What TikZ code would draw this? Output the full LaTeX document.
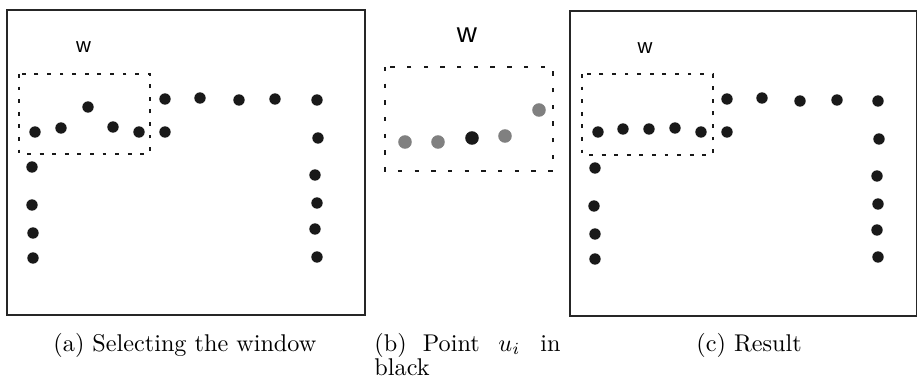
\documentclass[tikz,border=0pt]{standalone}
\usepackage{fontspec}
\newfontfamily\wfont{Liberation Sans}
\begin{document}
\begin{tikzpicture}[x=0.4132pt,y=-0.4132pt,
  frame/.style={draw=black!85,line width=0.8pt},
  dot/.style={circle,fill=black!90,inner sep=0pt,minimum size=4.7pt},
  bigdot/.style={circle,fill=black!90,inner sep=0pt,minimum size=5.6pt},
  greydot/.style={circle,fill=black!50,inner sep=0pt,minimum size=5.6pt},
  winA/.style={draw=black!90,line width=0.8pt,dash pattern=on 1.6pt off 3.6pt},
  winB/.style={draw=black!90,line width=0.95pt,dash pattern=on 1.8pt off 5.1pt},
  captext/.style={anchor=base west,inner sep=0pt,font=\fontsize{10}{12}\selectfont}]
\useasboundingbox (0,0) rectangle (917,388);
% panel (a)
\draw[frame] (7,10) rectangle (365,315);
\node[font=\wfont\fontsize{8.5}{10}\selectfont,inner sep=0pt] (wa) at (83.5,47.5) {w};
\draw[winA] (19,74) rectangle (150,154);
\foreach \x/\y [count=\i] in {35/132,61/128,88/107,113/127,139/132,165/132,165/99,200/98,239/100,275/99,317/100,318/138,315/175,317/203,315/229,317/257,32/167,32/205,33/233,33/258}
  \node[dot] (a\i) at (\x,\y) {};
% panel (b)
\node[font=\wfont\fontsize{11.5}{13}\selectfont,inner sep=0pt] (wb) at (467,35.5) {w};
\draw[winB] (385,67) rectangle (553,171);
\node[greydot] (b1) at (405,142) {};
\node[greydot] (b2) at (438,142) {};
\node[bigdot] (b3) at (472,138) {};
\node[greydot] (b4) at (505,136) {};
\node[greydot] (b5) at (539,110) {};
% panel (c)
\draw[frame] (570,11) rectangle (917,316);
\node[font=\wfont\fontsize{8.5}{10}\selectfont,inner sep=0pt] (wc) at (645,48) {w};
\draw[winA] (582,74) rectangle (713,155);
\foreach \x/\y [count=\i] in {598/132,623/129,649/129,675/128,701/132,727/132,727/99,762/98,800/101,837/100,878/101,879/139,877/176,878/204,877/230,878/257,595/168,594/206,595/234,595/259}
  \node[dot] (c\i) at (\x,\y) {};
% captions
\node[captext] (capa) at (53,351) {(a) Selecting the window};
\node[captext] (capb1) at (374,351) {(b)\ \ Point};
\node[captext] (capb2) at (498,351) {$u_i$};
\node[captext] (capb3) at (540,351) {in};
\node[captext] (capb4) at (374,375) {black};
\node[captext] (capc) at (696,351) {(c) Result};
\end{tikzpicture}
\end{document}
